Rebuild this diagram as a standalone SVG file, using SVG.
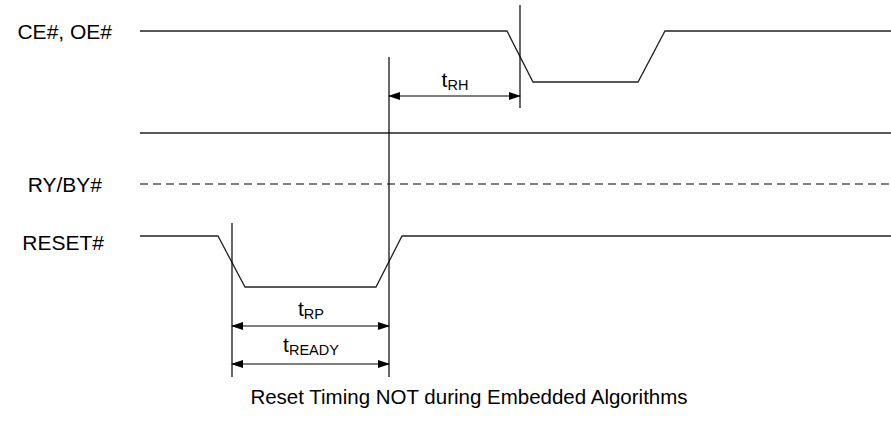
<svg xmlns="http://www.w3.org/2000/svg" width="891" height="434" viewBox="0 0 891 434">
<defs>
<marker id="ah" markerWidth="12" markerHeight="8" refX="11" refY="4" orient="auto-start-reverse" markerUnits="userSpaceOnUse">
<path d="M0,0 L12,4 L0,8 Z" fill="#000"/>
</marker>
</defs>
<style>
text{font-family:"Liberation Sans",Arial,sans-serif;fill:#000}
.lbl{font-size:21px}
.cap{font-size:20.5px}
.sig{fill:none;stroke:#222;stroke-width:1.3}
.dash{fill:none;stroke:#555;stroke-width:1.3;stroke-dasharray:8,5}
.ref{fill:none;stroke:#000;stroke-width:1.2}
.dim{fill:none;stroke:#000;stroke-width:1.2;marker-start:url(#ah);marker-end:url(#ah)}
.t{font-size:21px}
.sub{font-size:14.5px}
</style>
<rect width="891" height="434" fill="#fff"/>
<g id="labels">
<text class="lbl" x="112" y="39" text-anchor="end">CE#, OE#</text>
<text class="lbl" x="102" y="192" text-anchor="end">RY/BY#</text>
<text class="lbl" x="104" y="250" text-anchor="end">RESET#</text>
</g>
<g id="signals">
<polyline class="sig" points="140,31 507,31 533,82 638,82 665,31 891,31"/>
<line class="sig" x1="140" y1="133" x2="891" y2="133"/>
<line class="dash" x1="140" y1="184" x2="891" y2="184"/>
<polyline class="sig" points="140,236 218,236 245,287 376,287 402,236 891,236"/>
</g>
<g id="connectors">
<line class="ref" x1="520" y1="5" x2="520" y2="108"/>
<line class="ref" x1="389" y1="57" x2="389" y2="377"/>
<line class="ref" x1="232" y1="223" x2="232" y2="377"/>
<line class="dim" x1="389" y1="96" x2="520" y2="96"/>
<line class="dim" x1="232" y1="326" x2="389" y2="326"/>
<line class="dim" x1="232" y1="364" x2="389" y2="364"/>
</g>
<g id="timing-labels">
<text class="t" x="455" y="87" text-anchor="middle">t<tspan class="sub" dy="3">RH</tspan></text>
<text class="t" x="311" y="316" text-anchor="middle">t<tspan class="sub" dy="3">RP</tspan></text>
<text class="t" x="311" y="352" text-anchor="middle">t<tspan class="sub" dy="3">READY</tspan></text>
</g>
<text class="cap" x="469" y="404" text-anchor="middle">Reset Timing NOT during Embedded Algorithms</text>
</svg>
